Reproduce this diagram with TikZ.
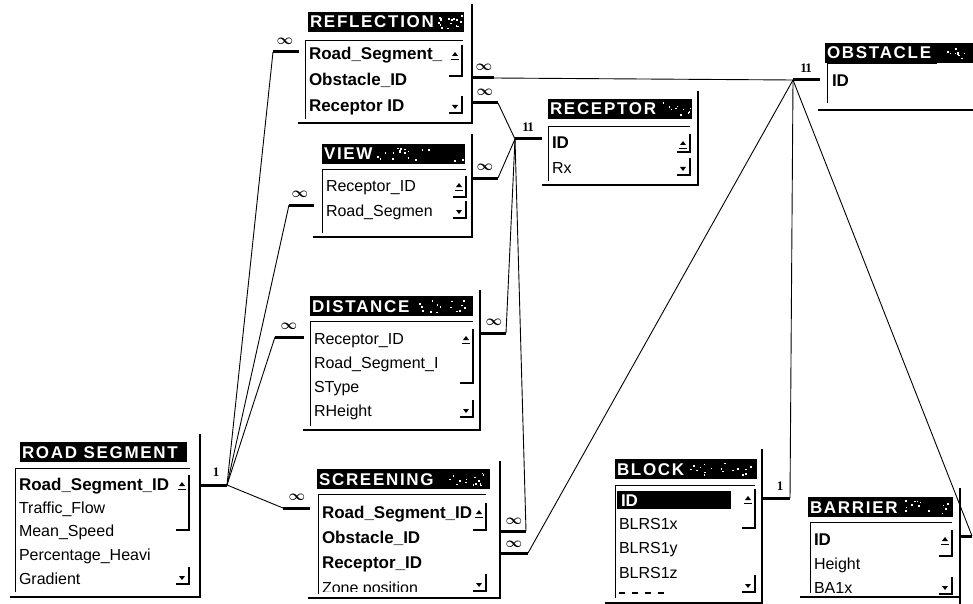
\documentclass[tikz,border=0pt]{standalone}
\usepackage{fontspec}
\setmainfont{Liberation Sans}
\newfontfamily\oneserif{Liberation Serif}
\newcommand\tbar[7]{%
  \fill[black] (#2,#3) rectangle (#4,{#3+20});
  \node[ttl,anchor=base west] (#1) at ({#2+2},{#3+16}) {#6};
  \ifnum#7>0
  \pgfmathsetseed{#2}%
  \foreach \k in {1,...,#7} {%
    \pgfmathsetmacro\px{#5+rnd*(#4-#5-2)}%
    \pgfmathsetmacro\py{#3+3+rnd*13}%
    \fill[white] (\px,\py) rectangle ++(1.6,1.6);
  }%
  \fi
}
\newcommand\scrlup[3]{%
  \fill ({#1-10},{#2+2}) -- ({#1-4},{#2+2}) -- ({#1-7},{#2-2}) -- cycle;
  \draw[line width=0.8pt] ({#1-11},{#2+5}) -- ({#1-3},{#2+5});
  \draw[line width=1.2pt] ({#1},{#2-9}) -- ({#1},{#2+#3}) -- ({#1-13},{#2+#3});
}
\newcommand\scrldn[2]{%
  \fill ({#1-10},{#2-1}) -- ({#1-4},{#2-1}) -- ({#1-7},{#2+3}) -- cycle;
  \draw[line width=1.2pt] ({#1},{#2-10}) -- ({#1},{#2+7}) -- ({#1-13},{#2+7});
}
\begin{document}
\begin{tikzpicture}[x=1pt,y=-1pt,
  every node/.style={inner sep=0pt,outer sep=0pt},
  ttl/.style={text=white,font=\fontsize{17}{17}\selectfont\bfseries\addfontfeature{LetterSpace=10}},
  fl/.style={font=\fontsize{16}{16}\selectfont},
  flb/.style={font=\fontsize{17}{17}\selectfont\bfseries},
  frm/.style={line width=1.6pt},
  inr/.style={line width=1pt},
  stub/.style={line width=3pt},
  link/.style={line width=0.9pt},
  inf/.style={font=\fontsize{15}{15}\selectfont\boldmath},
  one/.style={font=\fontsize{13}{13}\selectfont\oneserif\bfseries}]
\useasboundingbox[fill=white] (0,0) rectangle (973,604);

% ---------- REFLECTION
\tbar{reflT}{308}{12}{464}{438}{REFLECTION}{16}
\draw[frm] (472,4) -- (472,123) -- (298,123);
\draw[inr] (305,119) -- (305,41) -- (463,41);
\node[flb,anchor=base west] (reflA) at (309,60) {Road\_Segment\_};
\node[flb,anchor=base west] (reflB) at (309,86) {Obstacle\_ID};
\node[flb,anchor=base west] (reflC) at (309,112) {Receptor ID};
\scrlup{462}{54}{22}
\scrldn{462}{106}

% ---------- VIEW
\tbar{viewT}{322}{144}{465}{377}{VIEW}{18}
\draw[frm] (472,134) -- (472,237) -- (313,237);
\draw[inr] (322,233) -- (322,169) -- (466,169);
\node[fl,anchor=base west] (viewA) at (326,191) {Receptor\_ID};
\node[fl,anchor=base west] (viewB) at (326,216) {Road\_Segmen};
\scrlup{466}{185}{12}
\scrldn{466}{211}

% ---------- DISTANCE
\tbar{distT}{310}{296}{473}{416}{DISTANCE}{16}
\draw[frm] (480,290) -- (480,430) -- (303,430);
\draw[inr] (310,426) -- (310,321) -- (473,321);
\node[fl,anchor=base west] (distA) at (314,344) {Receptor\_ID};
\node[fl,anchor=base west] (distB) at (314,368) {Road\_Segment\_I};
\node[fl,anchor=base west] (distC) at (314,392) {SType};
\node[fl,anchor=base west] (distD) at (314,416) {RHeight};
\scrlup{473}{338}{45}
\scrldn{473}{410}

% ---------- RECEPTOR
\tbar{recT}{548}{99}{692}{662}{RECEPTOR}{10}
\draw[frm] (698,91) -- (698,185) -- (542,185);
\draw[inr] (548,181) -- (548,127) -- (690,127);
\node[flb,anchor=base west] (recA) at (552,149) {ID};
\node[fl,anchor=base west] (recB) at (552,174) {Rx};
\scrlup{690}{143}{9}
\scrldn{690}{168}

% ---------- OBSTACLE
\tbar{obsT}{825}{43}{975}{936}{OBSTACLE}{10}
\draw[inr] (827,103) -- (827,64) -- (937,64);
\draw[frm] (818,110) -- (975,110);
\node[flb,anchor=base west] (obsA) at (832,87) {ID};

% ---------- ROAD SEGMENT
\tbar{rsT}{20}{442}{187}{187}{ROAD SEGMENT}{0}
\draw[frm] (200,434) -- (200,597) -- (10,597);
\draw[inr] (15,592) -- (15,468) -- (190,468);
\node[flb,anchor=base west] (rsA) at (19,490) {Road\_Segment\_ID};
\node[fl,anchor=base west] (rsB) at (19,513) {Traffic\_Flow};
\node[fl,anchor=base west] (rsC) at (19,536) {Mean\_Speed};
\node[fl,anchor=base west] (rsD) at (19,560) {Percentage\_Heavi};
\begin{scope}
  \clip (15,568) rectangle (190,587);
  \node[fl,anchor=base west] (rsE2) at (19,584) {Gradient};
\end{scope}
\scrlup{189}{484}{46}
\scrldn{189}{577}

% ---------- SCREENING
\tbar{scrT}{317}{469}{490}{438}{SCREENING}{14}
\draw[frm] (500,461) -- (500,598) -- (308,598);
\draw[inr] (318,594) -- (318,494) -- (486,494);
\node[flb,anchor=base west] (scrA) at (322,518) {Road\_Segment\_ID};
\node[flb,anchor=base west] (scrB) at (322,543) {Obstacle\_ID};
\node[flb,anchor=base west] (scrC) at (322,568) {Receptor\_ID};
\begin{scope}
  \clip (318,576) rectangle (486,591);
  \node[fl,anchor=base west] (scrD) at (322,593) {Zone position};
\end{scope}
\scrlup{486}{512}{18}
\scrldn{486}{584}

% ---------- BLOCK
\tbar{blkT}{615}{459}{757}{689}{BLOCK}{18}
\draw[frm] (762,449) -- (762,603) -- (605,603);
\draw[inr] (615,598) -- (615,485) -- (755,485);
\fill (617,491) rectangle (731,509);
\node[flb,anchor=base west,text=white] (blkA) at (621,506) {ID};
\node[fl,anchor=base west] (blkB) at (619,529) {BLRS1x};
\node[fl,anchor=base west] (blkC) at (619,553) {BLRS1y};
\node[fl,anchor=base west] (blkD) at (619,578) {BLRS1z};
\foreach \dx in {619,632,645,658}
  \draw[line width=1.3pt] (\dx,593) -- ++(6,0);
\scrlup{755}{498}{30}
\scrldn{755}{585}

% ---------- BARRIER
\tbar{barT}{808}{497}{953}{902}{BARRIER}{14}
\draw[frm] (960,488) -- (960,604);
\draw[frm] (800,597) -- (960,597);
\draw[inr] (810,593) -- (810,522) -- (952,522);
\node[flb,anchor=base west] (barA) at (814,545) {ID};
\node[fl,anchor=base west] (barB) at (814,569) {Height};
\node[fl,anchor=base west] (barC) at (814,593) {BA1x};
\scrlup{952}{539}{17}
\scrldn{952}{587}

% ---------- connectors: ROAD SEGMENT (1) -> many
\coordinate (rsS) at (200,485);
\coordinate (jRS) at (227,485);
\draw[stub] (rsS) -- (jRS);
\node[one] (rsOne) at (216,472) {1};

\coordinate (reflWj) at (273,52);  \coordinate (reflW) at (299,52);
\draw[stub] (reflWj) -- (reflW);
\node[inf] (reflWi) at (285,41) {$\infty$};
\draw[link] (jRS) -- (reflWj);

\coordinate (viewWj) at (289,205); \coordinate (viewW) at (314,205);
\draw[stub] (viewWj) -- (viewW);
\node[inf] (viewWi) at (300,194) {$\infty$};
\draw[link] (jRS) -- (viewWj);

\coordinate (distWj) at (275,337); \coordinate (distW) at (304,337);
\draw[stub] (distWj) -- (distW);
\node[inf] (distWi) at (289,326) {$\infty$};
\draw[link] (jRS) -- (distWj);

\coordinate (scrWj) at (283,508); \coordinate (scrW) at (310,508);
\draw[stub] (scrWj) -- (scrW);
\node[inf] (scrWi) at (297,497) {$\infty$};
\draw[link] (jRS) -- (scrWj);

% ---------- connectors: RECEPTOR (1) -> many
\coordinate (jRC) at (515,139); \coordinate (recW) at (542,139);
\draw[stub] (jRC) -- (recW);
\node[one] (recOne) at (528,127) {1\kern-1.5pt1};

\coordinate (reflE2) at (472,103); \coordinate (reflE2j) at (498,103);
\draw[stub] (reflE2) -- (reflE2j);
\node[inf] (reflE2i) at (485,92) {$\infty$};
\draw[link] (reflE2j) -- (jRC);

\coordinate (viewE) at (472,178); \coordinate (viewEj) at (498,178);
\draw[stub] (viewE) -- (viewEj);
\node[inf] (viewEi) at (485,167) {$\infty$};
\draw[link] (viewEj) -- (jRC);

\coordinate (distE) at (480,333); \coordinate (distEj) at (506,333);
\draw[stub] (distE) -- (distEj);
\node[inf] (distEi) at (494,322) {$\infty$};
\draw[link] (distEj) -- (jRC);

\coordinate (scrE1) at (500,531); \coordinate (scrE1j) at (526,531);
\draw[stub] (scrE1) -- (scrE1j);
\node[inf] (scrE1i) at (514,521) {$\infty$};
\draw[link] (scrE1j) -- (jRC);

% ---------- connectors: OBSTACLE (1) -> many
\coordinate (jOB) at (793,80); \coordinate (obsW) at (820,80);
\draw[stub] (jOB) -- (obsW);
\node[one] (obsOne) at (806,68) {1\kern-1.5pt1};

\coordinate (reflE1) at (472,78); \coordinate (reflE1j) at (494,78);
\draw[stub] (reflE1) -- (reflE1j);
\node[inf] (reflE1i) at (484,67) {$\infty$};
\draw[link] (reflE1j) -- (jOB);

\coordinate (scrE2) at (500,553); \coordinate (scrE2j) at (528,553);
\draw[stub] (scrE2) -- (scrE2j);
\node[inf] (scrE2i) at (514,544) {$\infty$};
\draw[link] (scrE2j) -- (jOB);

\coordinate (blkE1) at (762,498); \coordinate (blkEj) at (790,498);
\draw[stub] (blkE1) -- (blkEj);
\node[one] (blkOne) at (780,486) {1};
\draw[link] (blkEj) -- (jOB);

\coordinate (barE) at (960,536); \coordinate (barEj) at (972,536);
\draw[stub] (barE) -- (barEj);
\draw[link] (barEj) -- (jOB);
\end{tikzpicture}
\end{document}
